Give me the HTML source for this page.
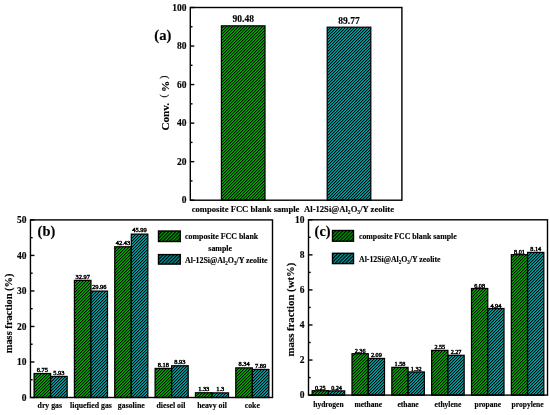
<!DOCTYPE html>
<html><head><meta charset="utf-8"><style>
html,body{margin:0;padding:0;background:#fff;width:550px;height:415px;overflow:hidden}
svg{display:block;will-change:transform}
text{font-family:"Liberation Serif", serif;fill:#000;stroke:#000;stroke-width:0.15px}
</style></head><body>
<svg width="550" height="415" viewBox="0 0 550 415">
<defs>
<pattern id="lg" patternUnits="userSpaceOnUse" width="2.5" height="2.5" patternTransform="rotate(45)">
<rect width="2.5" height="2.5" fill="#00aa00"/><rect width="1.250" height="2.5" fill="#000"/></pattern>
<pattern id="lt" patternUnits="userSpaceOnUse" width="2.5" height="2.5" patternTransform="rotate(45)">
<rect width="2.5" height="2.5" fill="#00a0a3"/><rect width="1.250" height="2.5" fill="#000"/></pattern>
<pattern id="hg" patternUnits="userSpaceOnUse" width="3" height="3">
<rect width="3" height="3" fill="#00aa00"/><path d="M0 0h1v1h-1zM2 1h1v1h-1zM1 2h1v1h-1z" fill="#000"/><path d="M1 0h1v1h-1zM0 1h1v1h-1zM2 2h1v1h-1z" fill="#007e00"/></pattern>
<pattern id="ht" patternUnits="userSpaceOnUse" width="3" height="3">
<rect width="3" height="3" fill="#00a0a3"/><path d="M0 0h1v1h-1zM2 1h1v1h-1zM1 2h1v1h-1z" fill="#000"/><path d="M1 0h1v1h-1zM0 1h1v1h-1zM2 2h1v1h-1z" fill="#007678"/></pattern>
</defs>
<rect x="221.41" y="25.85" width="43.59" height="174.35" fill="url(#hg)" stroke="#000" stroke-width="1.25"/>
<text x="243.20" y="22.19" font-size="9.5" text-anchor="middle" font-weight="bold" >90.48</text>
<rect x="327.21" y="27.21" width="43.59" height="172.99" fill="url(#ht)" stroke="#000" stroke-width="1.25"/>
<text x="349.00" y="23.55" font-size="9.5" text-anchor="middle" font-weight="bold" >89.77</text>
<rect x="190.30" y="7.50" width="211.60" height="192.70" fill="none" stroke="#000" stroke-width="1.4"/>
<line x1="190.30" y1="200.20" x2="194.30" y2="200.20" stroke="#000" stroke-width="1.4"/>
<text x="186.50" y="203.43" font-size="9.5" text-anchor="end" font-weight="bold" >0</text>
<line x1="190.30" y1="161.66" x2="194.30" y2="161.66" stroke="#000" stroke-width="1.4"/>
<text x="186.50" y="164.89" font-size="9.5" text-anchor="end" font-weight="bold" >20</text>
<line x1="190.30" y1="123.12" x2="194.30" y2="123.12" stroke="#000" stroke-width="1.4"/>
<text x="186.50" y="126.35" font-size="9.5" text-anchor="end" font-weight="bold" >40</text>
<line x1="190.30" y1="84.58" x2="194.30" y2="84.58" stroke="#000" stroke-width="1.4"/>
<text x="186.50" y="87.81" font-size="9.5" text-anchor="end" font-weight="bold" >60</text>
<line x1="190.30" y1="46.04" x2="194.30" y2="46.04" stroke="#000" stroke-width="1.4"/>
<text x="186.50" y="49.27" font-size="9.5" text-anchor="end" font-weight="bold" >80</text>
<line x1="190.30" y1="7.50" x2="194.30" y2="7.50" stroke="#000" stroke-width="1.4"/>
<text x="186.50" y="10.73" font-size="9.5" text-anchor="end" font-weight="bold" >100</text>
<line x1="190.30" y1="180.93" x2="192.50" y2="180.93" stroke="#000" stroke-width="1.4"/>
<line x1="190.30" y1="142.39" x2="192.50" y2="142.39" stroke="#000" stroke-width="1.4"/>
<line x1="190.30" y1="103.85" x2="192.50" y2="103.85" stroke="#000" stroke-width="1.4"/>
<line x1="190.30" y1="65.31" x2="192.50" y2="65.31" stroke="#000" stroke-width="1.4"/>
<line x1="190.30" y1="26.77" x2="192.50" y2="26.77" stroke="#000" stroke-width="1.4"/>
<text x="245.60" y="211.50" font-size="8.6" text-anchor="middle" font-weight="bold" >composite FCC blank sample</text>
<text x="349.00" y="211.50" font-size="8.6" text-anchor="middle" font-weight="bold" >Al-12Si@Al<tspan font-size="5.59" dy="2.41">2</tspan><tspan dy="-2.41">O</tspan><tspan font-size="5.59" dy="2.41">3</tspan><tspan dy="-2.41">/Y zeolite</tspan></text>
<text x="154.30" y="39.60" font-size="14.6" text-anchor="start" font-weight="bold" >(a)</text>
<g transform="translate(168.8,130.6) rotate(-90)"><text x="0" y="0" font-size="11.2" font-weight="bold">Conv.</text><text x="33.2" y="-1.6" font-size="10" font-weight="normal" fill="#555">(</text><text x="38.6" y="0" font-size="11.2" font-weight="bold">%</text><text x="51.6" y="-1.6" font-size="10" font-weight="normal" fill="#555">)</text></g>
<rect x="34.08" y="373.52" width="16.54" height="23.98" fill="url(#hg)" stroke="#000" stroke-width="1.25"/>
<text x="42.35" y="371.82" font-size="6.4" text-anchor="middle" font-weight="normal" style="stroke-width:0.45px">6.75</text>
<rect x="50.62" y="376.44" width="16.54" height="21.06" fill="url(#ht)" stroke="#000" stroke-width="1.25"/>
<text x="58.89" y="374.74" font-size="6.4" text-anchor="middle" font-weight="normal" style="stroke-width:0.45px">5.93</text>
<rect x="74.42" y="280.39" width="16.54" height="117.11" fill="url(#hg)" stroke="#000" stroke-width="1.25"/>
<text x="82.69" y="278.69" font-size="6.4" text-anchor="middle" font-weight="normal" style="stroke-width:0.45px">32.97</text>
<rect x="90.96" y="291.08" width="16.54" height="106.42" fill="url(#ht)" stroke="#000" stroke-width="1.25"/>
<text x="99.23" y="289.38" font-size="6.4" text-anchor="middle" font-weight="normal" style="stroke-width:0.45px">29.96</text>
<rect x="114.76" y="246.79" width="16.54" height="150.71" fill="url(#hg)" stroke="#000" stroke-width="1.25"/>
<text x="123.03" y="245.09" font-size="6.4" text-anchor="middle" font-weight="normal" style="stroke-width:0.45px">42.43</text>
<rect x="131.30" y="234.14" width="16.54" height="163.36" fill="url(#ht)" stroke="#000" stroke-width="1.25"/>
<text x="139.57" y="232.44" font-size="6.4" text-anchor="middle" font-weight="normal" style="stroke-width:0.45px">45.99</text>
<rect x="155.11" y="368.44" width="16.54" height="29.06" fill="url(#hg)" stroke="#000" stroke-width="1.25"/>
<text x="163.38" y="366.74" font-size="6.4" text-anchor="middle" font-weight="normal" style="stroke-width:0.45px">8.18</text>
<rect x="171.65" y="365.78" width="16.54" height="31.72" fill="url(#ht)" stroke="#000" stroke-width="1.25"/>
<text x="179.92" y="364.08" font-size="6.4" text-anchor="middle" font-weight="normal" style="stroke-width:0.45px">8.93</text>
<rect x="195.45" y="392.78" width="16.54" height="4.72" fill="url(#hg)" stroke="#000" stroke-width="1.25"/>
<text x="203.72" y="391.08" font-size="6.4" text-anchor="middle" font-weight="normal" style="stroke-width:0.45px">1.33</text>
<rect x="211.99" y="392.88" width="16.54" height="4.62" fill="url(#ht)" stroke="#000" stroke-width="1.25"/>
<text x="220.26" y="391.18" font-size="6.4" text-anchor="middle" font-weight="normal" style="stroke-width:0.45px">1.3</text>
<rect x="235.79" y="367.88" width="16.54" height="29.62" fill="url(#hg)" stroke="#000" stroke-width="1.25"/>
<text x="244.06" y="366.18" font-size="6.4" text-anchor="middle" font-weight="normal" style="stroke-width:0.45px">8.34</text>
<rect x="252.33" y="369.47" width="16.54" height="28.03" fill="url(#ht)" stroke="#000" stroke-width="1.25"/>
<text x="260.60" y="367.77" font-size="6.4" text-anchor="middle" font-weight="normal" style="stroke-width:0.45px">7.89</text>
<rect x="30.45" y="219.90" width="242.05" height="177.60" fill="none" stroke="#000" stroke-width="1.4"/>
<line x1="30.45" y1="397.50" x2="34.45" y2="397.50" stroke="#000" stroke-width="1.4"/>
<text x="26.50" y="400.73" font-size="9.5" text-anchor="end" font-weight="bold" >0</text>
<line x1="30.45" y1="361.98" x2="34.45" y2="361.98" stroke="#000" stroke-width="1.4"/>
<text x="26.50" y="365.21" font-size="9.5" text-anchor="end" font-weight="bold" >10</text>
<line x1="30.45" y1="326.46" x2="34.45" y2="326.46" stroke="#000" stroke-width="1.4"/>
<text x="26.50" y="329.69" font-size="9.5" text-anchor="end" font-weight="bold" >20</text>
<line x1="30.45" y1="290.94" x2="34.45" y2="290.94" stroke="#000" stroke-width="1.4"/>
<text x="26.50" y="294.17" font-size="9.5" text-anchor="end" font-weight="bold" >30</text>
<line x1="30.45" y1="255.42" x2="34.45" y2="255.42" stroke="#000" stroke-width="1.4"/>
<text x="26.50" y="258.65" font-size="9.5" text-anchor="end" font-weight="bold" >40</text>
<line x1="30.45" y1="219.90" x2="34.45" y2="219.90" stroke="#000" stroke-width="1.4"/>
<text x="26.50" y="223.13" font-size="9.5" text-anchor="end" font-weight="bold" >50</text>
<line x1="30.45" y1="379.74" x2="32.65" y2="379.74" stroke="#000" stroke-width="1.4"/>
<line x1="30.45" y1="344.22" x2="32.65" y2="344.22" stroke="#000" stroke-width="1.4"/>
<line x1="30.45" y1="308.70" x2="32.65" y2="308.70" stroke="#000" stroke-width="1.4"/>
<line x1="30.45" y1="273.18" x2="32.65" y2="273.18" stroke="#000" stroke-width="1.4"/>
<line x1="30.45" y1="237.66" x2="32.65" y2="237.66" stroke="#000" stroke-width="1.4"/>
<text x="49.82" y="408.40" font-size="7.8" text-anchor="middle" font-weight="bold" >dry gas</text>
<text x="90.96" y="408.40" font-size="7.8" text-anchor="middle" font-weight="bold" >liquefied gas</text>
<text x="131.30" y="408.40" font-size="7.8" text-anchor="middle" font-weight="bold" >gasoline</text>
<text x="170.95" y="408.40" font-size="7.8" text-anchor="middle" font-weight="bold" >diesel oil</text>
<text x="211.99" y="408.40" font-size="7.8" text-anchor="middle" font-weight="bold" >heavy oil</text>
<text x="252.33" y="408.40" font-size="7.8" text-anchor="middle" font-weight="bold" >coke</text>
<text x="37.60" y="236.00" font-size="14.4" text-anchor="start" font-weight="bold" >(b)</text>
<text transform="translate(12.3,313.4) rotate(-90)" font-size="10.4" text-anchor="middle" font-weight="bold">mass fraction (%)</text>
<rect x="158.5" y="231" width="21.8" height="10.5" fill="url(#lg)" stroke="#000" stroke-width="1.4"/>
<rect x="158.5" y="254.6" width="21.8" height="9.5" fill="url(#lt)" stroke="#000" stroke-width="1.4"/>
<text x="185.00" y="239.00" font-size="7.9" text-anchor="start" font-weight="bold" >composite FCC blank</text>
<text x="220.20" y="250.50" font-size="7.9" text-anchor="middle" font-weight="bold" >sample</text>
<text x="185.00" y="262.50" font-size="7.9" text-anchor="start" font-weight="bold" >Al-12Si@Al<tspan font-size="5.14" dy="2.21">2</tspan><tspan dy="-2.21">O</tspan><tspan font-size="5.14" dy="2.21">3</tspan><tspan dy="-2.21">/Y zeolite</tspan></text>
<rect x="312.16" y="390.72" width="16.25" height="4.38" fill="url(#hg)" stroke="#000" stroke-width="1.25"/>
<text x="320.29" y="389.72" font-size="6.2" text-anchor="middle" font-weight="normal" style="stroke-width:0.45px">0.25</text>
<rect x="328.42" y="390.89" width="16.25" height="4.21" fill="url(#ht)" stroke="#000" stroke-width="1.25"/>
<text x="336.54" y="389.89" font-size="6.2" text-anchor="middle" font-weight="normal" style="stroke-width:0.45px">0.24</text>
<rect x="352.00" y="353.73" width="16.25" height="41.37" fill="url(#hg)" stroke="#000" stroke-width="1.25"/>
<text x="360.12" y="352.73" font-size="6.2" text-anchor="middle" font-weight="normal" style="stroke-width:0.45px">2.36</text>
<rect x="368.25" y="358.46" width="16.25" height="36.64" fill="url(#ht)" stroke="#000" stroke-width="1.25"/>
<text x="376.38" y="357.46" font-size="6.2" text-anchor="middle" font-weight="normal" style="stroke-width:0.45px">2.09</text>
<rect x="391.83" y="367.40" width="16.25" height="27.70" fill="url(#hg)" stroke="#000" stroke-width="1.25"/>
<text x="399.96" y="366.40" font-size="6.2" text-anchor="middle" font-weight="normal" style="stroke-width:0.45px">1.58</text>
<rect x="408.08" y="371.96" width="16.25" height="23.14" fill="url(#ht)" stroke="#000" stroke-width="1.25"/>
<text x="416.21" y="370.96" font-size="6.2" text-anchor="middle" font-weight="normal" style="stroke-width:0.45px">1.32</text>
<rect x="431.66" y="350.40" width="16.25" height="44.70" fill="url(#hg)" stroke="#000" stroke-width="1.25"/>
<text x="439.79" y="349.40" font-size="6.2" text-anchor="middle" font-weight="normal" style="stroke-width:0.45px">2.55</text>
<rect x="447.92" y="355.31" width="16.25" height="39.79" fill="url(#ht)" stroke="#000" stroke-width="1.25"/>
<text x="456.04" y="354.31" font-size="6.2" text-anchor="middle" font-weight="normal" style="stroke-width:0.45px">2.27</text>
<rect x="471.50" y="288.52" width="16.25" height="106.58" fill="url(#hg)" stroke="#000" stroke-width="1.25"/>
<text x="479.62" y="287.52" font-size="6.2" text-anchor="middle" font-weight="normal" style="stroke-width:0.45px">6.08</text>
<rect x="487.75" y="308.50" width="16.25" height="86.60" fill="url(#ht)" stroke="#000" stroke-width="1.25"/>
<text x="495.88" y="307.50" font-size="6.2" text-anchor="middle" font-weight="normal" style="stroke-width:0.45px">4.94</text>
<rect x="511.33" y="254.68" width="16.25" height="140.42" fill="url(#hg)" stroke="#000" stroke-width="1.25"/>
<text x="519.46" y="253.68" font-size="6.2" text-anchor="middle" font-weight="normal" style="stroke-width:0.45px">8.01</text>
<rect x="527.58" y="252.41" width="16.25" height="142.69" fill="url(#ht)" stroke="#000" stroke-width="1.25"/>
<text x="535.71" y="251.41" font-size="6.2" text-anchor="middle" font-weight="normal" style="stroke-width:0.45px">8.14</text>
<rect x="308.50" y="219.80" width="239.00" height="175.30" fill="none" stroke="#000" stroke-width="1.4"/>
<line x1="308.50" y1="395.10" x2="312.50" y2="395.10" stroke="#000" stroke-width="1.4"/>
<text x="304.50" y="398.33" font-size="9.5" text-anchor="end" font-weight="bold" >0</text>
<line x1="308.50" y1="360.04" x2="312.50" y2="360.04" stroke="#000" stroke-width="1.4"/>
<text x="304.50" y="363.27" font-size="9.5" text-anchor="end" font-weight="bold" >2</text>
<line x1="308.50" y1="324.98" x2="312.50" y2="324.98" stroke="#000" stroke-width="1.4"/>
<text x="304.50" y="328.21" font-size="9.5" text-anchor="end" font-weight="bold" >4</text>
<line x1="308.50" y1="289.92" x2="312.50" y2="289.92" stroke="#000" stroke-width="1.4"/>
<text x="304.50" y="293.15" font-size="9.5" text-anchor="end" font-weight="bold" >6</text>
<line x1="308.50" y1="254.86" x2="312.50" y2="254.86" stroke="#000" stroke-width="1.4"/>
<text x="304.50" y="258.09" font-size="9.5" text-anchor="end" font-weight="bold" >8</text>
<line x1="308.50" y1="219.80" x2="312.50" y2="219.80" stroke="#000" stroke-width="1.4"/>
<text x="304.50" y="223.03" font-size="9.5" text-anchor="end" font-weight="bold" >10</text>
<line x1="308.50" y1="377.57" x2="310.70" y2="377.57" stroke="#000" stroke-width="1.4"/>
<line x1="308.50" y1="342.51" x2="310.70" y2="342.51" stroke="#000" stroke-width="1.4"/>
<line x1="308.50" y1="307.45" x2="310.70" y2="307.45" stroke="#000" stroke-width="1.4"/>
<line x1="308.50" y1="272.39" x2="310.70" y2="272.39" stroke="#000" stroke-width="1.4"/>
<line x1="308.50" y1="237.33" x2="310.70" y2="237.33" stroke="#000" stroke-width="1.4"/>
<text x="328.42" y="406.90" font-size="7.5" text-anchor="middle" font-weight="bold" >hydrogen</text>
<text x="368.25" y="406.90" font-size="7.5" text-anchor="middle" font-weight="bold" >methane</text>
<text x="408.08" y="406.90" font-size="7.5" text-anchor="middle" font-weight="bold" >ethane</text>
<text x="447.92" y="406.90" font-size="7.5" text-anchor="middle" font-weight="bold" >ethylene</text>
<text x="487.75" y="406.90" font-size="7.5" text-anchor="middle" font-weight="bold" >propane</text>
<text x="527.58" y="406.90" font-size="7.5" text-anchor="middle" font-weight="bold" >propylene</text>
<text x="314.60" y="236.00" font-size="14.4" text-anchor="start" font-weight="bold" >(c)</text>
<text transform="translate(294,309.5) rotate(-90)" font-size="10.75" text-anchor="middle" font-weight="bold">mass fraction (wt%)</text>
<rect x="332.5" y="230.5" width="21" height="10.7" fill="url(#lg)" stroke="#000" stroke-width="1.4"/>
<rect x="332.5" y="253.3" width="21" height="10.3" fill="url(#lt)" stroke="#000" stroke-width="1.4"/>
<text x="359.00" y="238.50" font-size="7.8" text-anchor="start" font-weight="bold" >composite FCC blank sample</text>
<text x="359.00" y="261.70" font-size="7.8" text-anchor="start" font-weight="bold" >Al-12Si@Al<tspan font-size="5.07" dy="2.18">2</tspan><tspan dy="-2.18">O</tspan><tspan font-size="5.07" dy="2.18">3</tspan><tspan dy="-2.18">/Y zeolite</tspan></text>
</svg></body></html>
